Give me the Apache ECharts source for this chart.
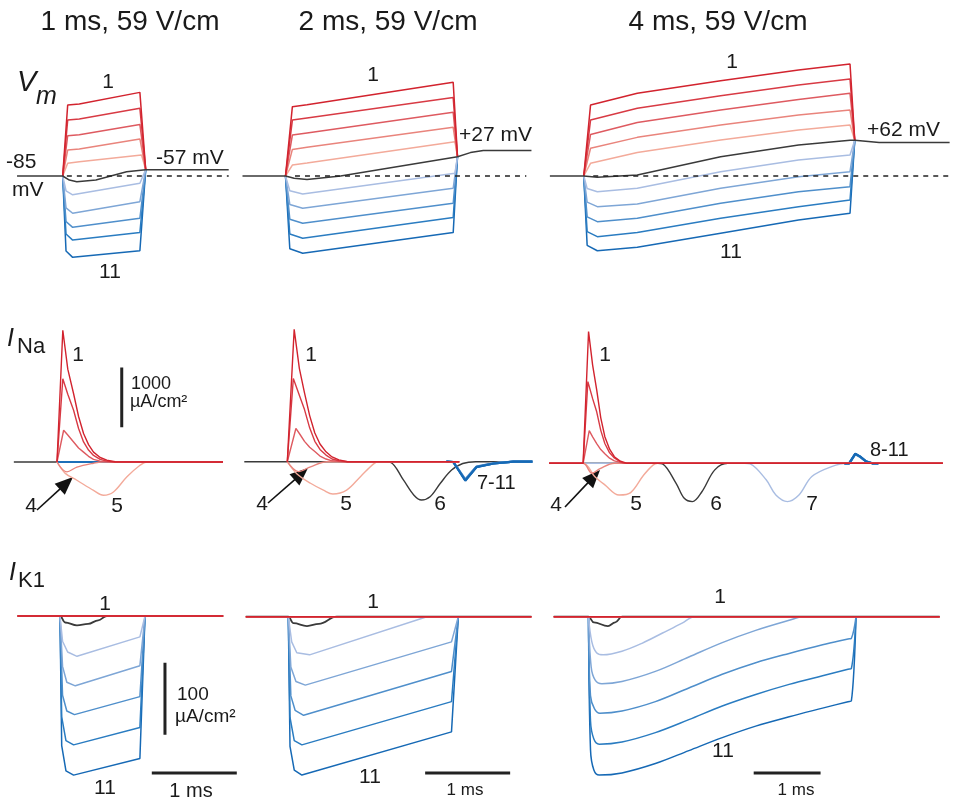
<!DOCTYPE html>
<html>
<head>
<meta charset="utf-8">
<script src="https://cdn.jsdelivr.net/npm/echarts@6/dist/echarts.min.js"></script>
<style>
  html, body { margin: 0; padding: 0; background: #fff; }
  #main { width: 953px; height: 800px; }
</style>
</head>
<body>
<div id="main"></div>
<script>
// traces 1..11, time in ms from pulse onset
const traceNames = ['1','2','3','4','5','6','7','8','9','10','11'];
const traceColors = ['#d2232e','#d83a44','#de5a60','#e9847c','#f3aa9a','#3a3a3a','#a9bde2','#7ea6d6','#4f8fcb','#2a7cc1','#1669b5'];

// Vm (mV), 1 ms pulse
const vmCol1 = [
  [[0,-85],[0.06,227],[0.2,232],[0.93,283],[1.0,-57]],
  [[0,-85],[0.06,161],[0.2,166],[0.93,213],[1.0,-57]],
  [[0,-85],[0.06,92],[0.2,97],[0.93,142],[1.0,-57]],
  [[0,-85],[0.06,29],[0.2,34],[0.93,78],[1.0,-57]],
  [[0,-85],[0.06,-29],[0.2,-22],[0.95,7],[1.0,-57]],
  [[-0.55,-85],[0,-85],[0.08,-103],[0.17,-110],[0.4,-103],[0.77,-66],[1.0,-57],[2.0,-57]],
  [[0,-85],[0.04,-150],[0.12,-168],[0.93,-117],[1.0,-57]],
  [[0,-85],[0.04,-225],[0.12,-249],[0.93,-198],[1.0,-57]],
  [[0,-85],[0.04,-285],[0.12,-311],[0.93,-271],[1.0,-57]],
  [[0,-85],[0.04,-340],[0.12,-367],[0.93,-334],[1.0,-57]],
  [[0,-85],[0.04,-415],[0.12,-443],[0.93,-414],[1.0,-57]]
];
// Vm (mV), 2 ms pulse
const vmCol2 = [
  [[0,-85],[0.08,220],[0.25,228],[1.95,327],[2.0,0]],
  [[0,-85],[0.08,161],[0.25,170],[1.95,260],[2.0,0]],
  [[0,-85],[0.08,95],[0.25,104],[1.95,195],[2.0,0]],
  [[0,-85],[0.08,32],[0.25,41],[1.95,129],[2.0,0]],
  [[0,-85],[0.08,-37],[0.25,-28],[1.97,66],[2.0,0]],
  [[-0.5,-85],[0,-85],[0.1,-95],[0.25,-100],[0.64,-85],[2.0,0],[2.15,18],[2.3,27],[2.86,27]],
  [[0,-85],[0.05,-150],[0.2,-164],[1.97,-73],[2.0,0]],
  [[0,-85],[0.05,-210],[0.2,-227],[1.95,-139],[2.0,0]],
  [[0,-85],[0.05,-275],[0.2,-293],[1.95,-205],[2.0,0]],
  [[0,-85],[0.05,-340],[0.2,-359],[1.95,-268],[2.0,0]],
  [[0,-85],[0.05,-405],[0.2,-425],[1.95,-334],[2.0,0]]
];
// Vm (mV), 4 ms pulse
const vmCol3 = [
  [[0,-85],[0.1,227],[0.79,279],[2.02,334],[3.17,381],[3.93,408],[4.0,72]],
  [[0,-85],[0.1,161],[0.79,213],[2.02,268],[3.17,315],[3.93,342],[4.0,72]],
  [[0,-85],[0.1,98],[0.79,150],[2.02,205],[3.17,252],[3.93,279],[4.0,72]],
  [[0,-85],[0.1,37],[0.79,85],[2.02,139],[3.17,183],[3.93,205],[4.0,72]],
  [[0,-85],[0.1,-29],[0.79,18],[2.02,73],[3.17,117],[3.93,139],[4.0,72]],
  [[-0.5,-85],[0,-85],[0.2,-91],[0.79,-81],[2.02,0],[3.17,51],[3.93,72],[4.0,72],[4.36,62],[5.4,62]],
  [[0,-85],[0.05,-140],[0.2,-154],[0.79,-139],[2.02,-66],[3.17,-15],[3.93,7],[4.0,72]],
  [[0,-85],[0.05,-200],[0.2,-220],[0.79,-208],[2.02,-139],[3.17,-88],[3.93,-66],[4.0,72]],
  [[0,-85],[0.05,-265],[0.2,-286],[0.79,-271],[2.02,-205],[3.17,-154],[3.93,-132],[4.0,72]],
  [[0,-85],[0.05,-330],[0.2,-352],[0.79,-334],[2.02,-271],[3.17,-220],[3.93,-191],[4.0,72]],
  [[0,-85],[0.05,-390],[0.2,-414],[0.79,-399],[2.02,-337],[3.17,-279],[3.93,-249],[4.0,72]]
];
const restLine1 = [[0.05,-85],[2.0,-85]];
const restLine2 = [[0.11,-85],[2.8,-85]];
const restLine3 = [[0.14,-85],[5.4,-85]];

// INa (uA/cm2)
const naCol1 = [
  [[0,0],[0.07,2200],[0.13,1550],[0.2,1140],[0.26,760],[0.32,475],[0.38,290],[0.44,165],[0.52,75],[0.6,30],[0.7,5],[2.0,0]],
  [[0,0],[0.07,1390],[0.13,1130],[0.2,865],[0.26,560],[0.32,335],[0.38,200],[0.44,110],[0.52,45],[0.6,15],[0.7,0],[2.0,0]],
  [[0,0],[0.08,530],[0.13,450],[0.2,335],[0.26,235],[0.32,165],[0.38,95],[0.44,45],[0.52,15],[0.65,0],[2.0,0]],
  [[0,0],[0.12,-165],[0.24,-85],[0.44,-20],[0.55,0],[2.0,0]],
  [[0,0],[0.1,-190],[0.24,-305],[0.44,-475],[0.56,-555],[0.68,-500],[0.84,-250],[1.0,-55],[1.08,0],[2.0,0]],
  [[-0.52,0],[2.0,0]],
  [[0,0],[2.0,0]],[[0,0],[2.0,0]],[[0,0],[2.0,0]],[[0,0],[2.0,0]],[[0,0],[2.0,0]]
];
const naCol2 = [
  [[0,0],[0.08,2210],[0.14,1560],[0.2,1150],[0.26,770],[0.32,480],[0.38,295],[0.45,165],[0.52,80],[0.6,30],[0.7,0],[2.0,0]],
  [[0,0],[0.07,1390],[0.14,1110],[0.2,870],[0.26,565],[0.32,340],[0.38,205],[0.45,110],[0.52,45],[0.6,15],[0.7,0],[2.0,0]],
  [[0,0],[0.1,555],[0.15,450],[0.2,340],[0.26,240],[0.32,170],[0.38,95],[0.45,45],[0.52,15],[0.65,0],[2.0,0]],
  [[0,0],[0.13,-165],[0.27,-85],[0.46,0],[2.0,0]],
  [[0,0],[0.11,-200],[0.27,-360],[0.42,-475],[0.53,-540],[0.69,-475],[0.85,-250],[1.0,-40],[1.06,0],[2.0,0]],
  [[-0.5,0],[1.12,0],[1.2,-10],[1.35,-305],[1.47,-555],[1.56,-640],[1.66,-585],[1.78,-360],[1.91,-140],[2.04,-30],[2.19,0],[2.85,0]],
  [[1.85,0],[1.93,-5],[2.07,-290],[2.2,-80],[2.4,-25],[2.63,0],[2.85,0]],
  [[1.85,0],[1.93,-5],[2.07,-298],[2.2,-83],[2.4,-27],[2.63,0],[2.85,0]],
  [[1.85,0],[1.93,-5],[2.07,-305],[2.2,-85],[2.4,-28],[2.63,0],[2.85,0]],
  [[1.85,0],[1.93,-5],[2.07,-310],[2.2,-88],[2.4,-30],[2.63,0],[2.85,0]],
  [[1.85,0],[1.93,-5],[2.07,-318],[2.2,-90],[2.4,-30],[2.63,0],[2.85,0]]
];
const naCol3 = [
  [[-0.5,0],[0,0],[0.08,2200],[0.14,1640],[0.2,1225],[0.26,760],[0.32,445],[0.39,235],[0.46,110],[0.55,35],[0.65,0],[5.3,0]],
  [[-0.5,0],[0,0],[0.07,1365],[0.14,1080],[0.2,860],[0.26,550],[0.32,330],[0.39,175],[0.46,90],[0.55,25],[0.62,0],[5.3,0]],
  [[-0.5,0],[0,0],[0.09,545],[0.14,440],[0.2,330],[0.26,230],[0.32,160],[0.39,85],[0.46,40],[0.6,0],[5.3,0]],
  [[-0.5,0],[0,0],[0.13,-165],[0.25,-90],[0.46,0],[5.3,0]],
  [[-0.5,0],[0,0],[0.17,-220],[0.32,-360],[0.53,-530],[0.7,-490],[0.89,-200],[1.03,-30],[1.1,0],[5.3,0]],
  [[-0.5,0],[1.1,0],[1.17,-10],[1.37,-335],[1.49,-585],[1.61,-640],[1.75,-475],[1.94,-110],[2.13,0],[5.3,0]],
  [[-0.5,0],[2.38,0],[2.46,-10],[2.7,-280],[2.84,-530],[3.01,-640],[3.18,-530],[3.37,-220],[3.66,-55],[3.9,0],[5.3,0]],
  [[3.85,0],[3.92,0],[4.01,150],[4.08,108],[4.17,28],[4.26,0],[4.35,0]],
  [[3.85,0],[3.92,0],[4.01,155],[4.08,110],[4.17,30],[4.26,0],[4.35,0]],
  [[3.85,0],[3.92,0],[4.01,158],[4.08,112],[4.17,30],[4.26,0],[4.35,0]],
  [[3.85,0],[3.92,0],[4.01,162],[4.08,115],[4.17,32],[4.26,0],[4.35,0]]
];
const naBar1 = [[0.78,580],[0.78,1580]];

// IK1 (uA/cm2)
const k1Col1 = [
  [[-0.5,0],[1.92,0]],[[-0.5,0],[1.92,0]],[[-0.5,0],[1.92,0]],[[-0.5,0],[1.92,0]],[[-0.5,0],[1.92,0]],
  [[-0.5,0],[0,0],[0.06,-9],[0.2,-13],[0.33,-11],[0.45,-6],[0.55,0],[1.92,0]],
  [[0,0],[0.03,-35],[0.09,-50],[0.2,-56],[0.94,-29],[1.0,0]],
  [[0,0],[0.03,-70],[0.08,-92],[0.18,-97],[0.94,-69],[1.0,0]],
  [[0,0],[0.03,-110],[0.08,-132],[0.17,-137],[0.94,-112],[1.0,0]],
  [[0,0],[0.02,-140],[0.07,-173],[0.16,-179],[0.94,-155],[1.0,0]],
  [[0,0],[0.02,-180],[0.07,-215],[0.16,-221],[0.94,-198],[1.0,0]]
];
const k1Col2 = [
  [[-0.5,0],[2.86,0]],[[-0.5,0],[2.86,0]],[[-0.5,0],[2.86,0]],[[-0.5,0],[2.86,0]],[[-0.5,0],[2.86,0]],
  [[-0.5,0],[0,0],[0.06,-9],[0.22,-13],[0.36,-10],[0.57,0],[2.86,0]],
  [[0,0],[0.04,-35],[0.1,-50],[0.25,-53],[1.63,0],[2.0,0]],
  [[0,0],[0.03,-70],[0.09,-90],[0.2,-95],[1.92,-35],[2.0,0]],
  [[0,0],[0.03,-110],[0.08,-130],[0.18,-137],[1.92,-76],[2.0,0]],
  [[0,0],[0.02,-140],[0.07,-172],[0.16,-178],[1.92,-118],[2.0,0]],
  [[0,0],[0.02,-180],[0.07,-213],[0.16,-220],[1.92,-160],[2.0,0]]
];
const k1Col3 = [
  [[-0.52,0],[5.25,0]],[[-0.52,0],[5.25,0]],[[-0.52,0],[5.25,0]],[[-0.52,0],[5.25,0]],[[-0.52,0],[5.25,0]],
  [[-0.52,0],[0,0],[0.08,-8],[0.29,-13],[0.4,-8],[0.5,0],[5.25,0]],
  [[0,0],[0.05,-35],[0.12,-50],[0.22,-53],[0.5,-48],[0.8,-37],[1.1,-23],[1.4,-9],[1.58,0],[1.7,0]],
  [[0,0],[0.04,-70],[0.1,-88],[0.2,-93],[0.5,-90],[1.0,-76],[1.5,-56],[2.0,-36],[2.5,-19],[3.0,-5],[3.21,0],[3.35,0]],
  [[0,0],[0.03,-110],[0.09,-128],[0.17,-134],[0.5,-131],[1.0,-118],[1.5,-99],[2.0,-80],[2.5,-64],[3.0,-51],[3.5,-39],[3.88,-31],[3.93,-30],[4.0,0]],
  [[0,0],[0.03,-145],[0.08,-170],[0.16,-177],[0.5,-174],[1.0,-161],[1.5,-143],[2.0,-124],[2.5,-108],[3.0,-94],[3.5,-82],[3.88,-73],[3.93,-72],[4.0,0]],
  [[0,0],[0.03,-185],[0.08,-213],[0.16,-220],[0.5,-217],[1.0,-204],[1.5,-186],[2.0,-168],[2.5,-152],[3.0,-139],[3.5,-127],[3.88,-118],[3.93,-117],[4.0,0]]
];
const k1Bar1 = [[1.235,-65],[1.235,-165]];
const msBar1 = [[1.08,-218],[2.08,-218]];
const msBar2 = [[1.61,-217],[2.61,-217]];
const msBar3 = [[2.47,-217],[3.47,-217]];

// panel placement: pixel of t=0, px per ms, pixel of reference value
const panels = [
  {x0:62.7, pxMs:83, tMin:-0.6, tMax:2.05, y0:176, base:-85, perPx:4.4, vMin:-500, vMax:470},
  {x0:285.5, pxMs:86, tMin:-0.55, tMax:2.95, y0:176, base:-85, perPx:4.4, vMin:-500, vMax:470},
  {x0:585, pxMs:70, tMin:-0.55, tMax:5.45, y0:176, base:-85, perPx:4.4, vMin:-500, vMax:470},
  {x0:57, pxMs:83, tMin:-0.6, tMax:2.05, y0:462, base:0, perPx:16.7, vMin:-800, vMax:2400},
  {x0:287.3, pxMs:86, tMin:-0.55, tMax:2.95, y0:461.7, base:0, perPx:16.7, vMin:-800, vMax:2400},
  {x0:584.3, pxMs:70, tMin:-0.55, tMax:5.45, y0:463.3, base:0, perPx:16.7, vMin:-800, vMax:2400},
  {x0:60, pxMs:85, tMin:-0.6, tMax:2.15, y0:616, base:0, perPx:1.389, vMin:-240, vMax:30},
  {x0:288.3, pxMs:85, tMin:-0.55, tMax:2.95, y0:616.7, base:0, perPx:1.389, vMin:-240, vMax:30},
  {x0:590, pxMs:69.6, tMin:-0.55, tMax:5.45, y0:616.7, base:0, perPx:1.389, vMin:-240, vMax:30}
];

const grids = [], xAxes = [], yAxes = [];
panels.forEach((p, i) => {
  grids.push({
    left: p.x0 + p.tMin * p.pxMs,
    width: (p.tMax - p.tMin) * p.pxMs,
    top: p.y0 - (p.vMax - p.base) / p.perPx,
    height: (p.vMax - p.vMin) / p.perPx
  });
  xAxes.push({type: 'value', gridIndex: i, min: p.tMin, max: p.tMax, show: false});
  yAxes.push({type: 'value', gridIndex: i, min: p.vMin, max: p.vMax, show: false});
});

const series = [];
function addLine(idx, data, color, width, extra) {
  series.push(Object.assign({
    type: 'line', xAxisIndex: idx, yAxisIndex: idx, data: data,
    symbol: 'none', silent: true, animation: false,
    lineStyle: {color: color, width: width}
  }, extra || {}));
}
// draw order per row
const vmOrder = [10,9,8,7,6,4,3,2,1,0,5];
const naOrder = [5,6,7,8,9,10,4,3,2,1,0];
const k1Order = [5,10,9,8,7,6,4,3,2,1,0];

[vmCol1, vmCol2, vmCol3].forEach((traces, c) => {
  vmOrder.forEach(k => addLine(c, traces[k], traceColors[k], 1.5, {name: traceNames[k]}));
});
[restLine1, restLine2, restLine3].forEach((d, c) => {
  addLine(c, d, '#222', 1.4, {lineStyle: {color: '#222', width: 1.4, type: [5, 5]}});
});
[naCol1, naCol2, naCol3].forEach((traces, c) => {
  naOrder.forEach(k => {
    const thick = (c === 1 && k > 5) || (c === 2 && k > 6);
    const sharp = k < 3 || thick;
    addLine(3 + c, traces[k], traceColors[k], thick ? 2.2 : 1.4,
      sharp ? {name: traceNames[k]} : {name: traceNames[k], smooth: 0.35});
  });
});
addLine(3, naBar1, '#222', 3);
[k1Col1, k1Col2, k1Col3].forEach((traces, c) => {
  k1Order.forEach(k => {
    const opt = {name: traceNames[k]};
    if (k === 5) { opt.smooth = 0.4; opt.smoothMonotone = 'x'; }
    else if (c === 2 && k > 5) { opt.smooth = 0.35; }
    addLine(6 + c, traces[k], traceColors[k], k === 5 ? 1.8 : 1.5, opt);
  });
});
addLine(6, k1Bar1, '#222', 3);
addLine(6, msBar1, '#222', 3);
addLine(7, msBar2, '#222', 3);
addLine(8, msBar3, '#222', 3);

// text and arrows
const FONT = '"Liberation Sans", Arial, Helvetica, sans-serif';
function txt(s, x, y, size, align, italic) {
  const font = (italic ? 'italic ' : '') + size + 'px ' + FONT;
  return {type: 'text', x: x, y: y, silent: true,
    style: {text: s, font: font, fill: '#1a1a1a', textAlign: align || 'center', align: align || 'center',
            textVerticalAlign: 'middle', verticalAlign: 'middle'}};
}
function arrow(x1, y1, x2, y2) {
  const dx = x2 - x1, dy = y2 - y1, L = Math.hypot(dx, dy), ux = dx / L, uy = dy / L;
  const hl = 18, hw = 7.5;
  const bx = x2 - ux * hl, by = y2 - uy * hl;
  return [
    {type: 'line', silent: true, shape: {x1: x1, y1: y1, x2: bx + ux * 2, y2: by + uy * 2}, style: {stroke: '#111', lineWidth: 1.6}},
    {type: 'polygon', silent: true, shape: {points: [[x2, y2], [bx - uy * hw, by + ux * hw], [bx + uy * hw, by - ux * hw]]}, style: {fill: '#111'}}
  ];
}

const graphics = [
  txt('1 ms, 59 V/cm', 130, 22, 28),
  txt('2 ms, 59 V/cm', 388, 22, 28),
  txt('4 ms, 59 V/cm', 718, 22, 28),
  txt('V', 17, 83, 29, 'left', true),
  txt('m', 36, 97, 25, 'left', true),
  txt('1', 108, 82, 21), txt('11', 110, 272, 21),
  txt('-85', 6, 162, 21, 'left'), txt('mV', 12, 190, 21, 'left'),
  txt('-57 mV', 156, 158, 21, 'left'),
  txt('1', 373, 75, 21), txt('+27 mV', 459, 135, 21, 'left'),
  txt('1', 732, 62, 21), txt('+62 mV', 867, 130, 21, 'left'), txt('11', 731, 252, 21),
  txt('I', 7, 339, 25, 'left', true), txt('Na', 17, 347, 22, 'left'),
  txt('1', 78, 355, 21),
  txt('1000', 131, 384, 18, 'left'), txt('\u00b5A/cm\u00b2', 130, 402, 18, 'left'),
  txt('4', 31, 506, 21), txt('5', 117, 506, 21),
  txt('1', 311, 355, 21), txt('4', 262, 504, 21), txt('5', 346, 504, 21), txt('6', 440, 504, 21),
  txt('7-11', 477, 483, 20, 'left'),
  txt('1', 605, 355, 21), txt('4', 556, 505, 21), txt('5', 636, 504, 21), txt('6', 716, 504, 21),
  txt('7', 812, 504, 21), txt('8-11', 870, 450, 20, 'left'),
  txt('I', 9, 573, 25, 'left', true), txt('K1', 18, 581, 22, 'left'),
  txt('1', 105, 604, 21), txt('100', 177, 695, 19, 'left'), txt('\u00b5A/cm\u00b2', 175, 717, 19, 'left'),
  txt('11', 105, 788, 21), txt('1 ms', 191, 791, 20),
  txt('1', 373, 602, 21), txt('11', 370, 777, 21), txt('1 ms', 465, 790, 17),
  txt('1', 720, 597, 21), txt('11', 723, 751, 21), txt('1 ms', 796, 790, 17)
].concat(arrow(37, 510, 73, 477), arrow(268, 503, 308, 468), arrow(565, 507, 600, 470));

const chart = echarts.init(document.getElementById('main'), null, {renderer: 'canvas'});
chart.setOption({
  animation: false,
  backgroundColor: '#fff',
  grid: grids,
  xAxis: xAxes,
  yAxis: yAxes,
  series: series,
  graphic: {elements: graphics}
});
</script>
</body>
</html>
